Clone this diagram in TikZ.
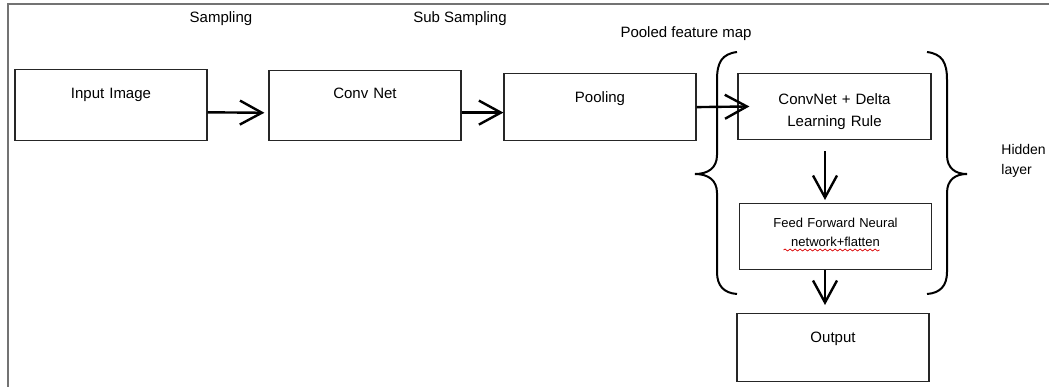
\documentclass[tikz,border=0pt]{standalone}
\usepackage{fontspec}
\setmainfont{Liberation Sans}
\usetikzlibrary{arrows.meta, calc, decorations.pathmorphing}

\begin{document}
\begin{tikzpicture}[x=0.5pt, y=-0.5pt,
    stage/.style={draw=black!85, line width=0.6pt, inner sep=0pt, text width=96pt,
      align=center, anchor=north, font=\fontsize{7.5}{11}\selectfont},
    flow/.style={-{Straight Barb[length=11pt, width=12pt]}, line width=1.2pt},
    hang/.style={line width=1pt},
    tag/.style={anchor=base, font=\fontsize{7.5}{10}\selectfont}]
  \useasboundingbox (0,0) rectangle (1049,387);

  % page frame
  \draw[black!55, line width=1pt] (1049,4) -- (8,4) -- (8,387);

  % top row
  \node[stage, text height=14.5pt, text depth=21pt] (in) at (111,69) {Input Image};
  \node[stage, text height=14pt, text depth=21pt] (conv) at (365,70) {Conv Net};
  \node[stage, text height=14.5pt, text depth=19pt] (pool) at (600,73) {Pooling};
  \node[stage, text width=96.5pt, text height=15.5pt, text depth=17.5pt] (delta) at (834.5,73)
    {ConvNet + Delta\\Learning Rule};

  % hidden layer column
  \node[stage, text height=12pt, text depth=21pt, font=\fontsize{6.5}{9.5}\selectfont] (ffnn) at (835.5,203)
    {Feed Forward Neural\\network+flatten};
  \node[stage, text height=14.5pt, text depth=19.5pt] (out) at (833,313) {Output};

  % labels
  \node[tag] (samp) at (221,22) {Sampling};
  \node[tag] (subsamp) at (460,22) {Sub Sampling};
  \node[tag] (pfmap) at (686,37) {Pooled feature map};
  \node[tag, anchor=base west, align=left, inner sep=0pt, font=\fontsize{7}{10}\selectfont] (hidden) at (1001,174) {Hidden\\layer};

  % spell-check squiggle
  \draw[red!85!black, line width=0.35pt, decorate, decoration={snake, amplitude=0.5pt, segment length=2.5pt}]
    ($(ffnn.north)+(-52,47)$) -- ($(ffnn.north)+(44,47)$);

  % arrows
  \draw[flow, shorten >=2pt] ([yshift=-3.6pt]in.east) -- ([yshift=-3.6pt]conv.west);
  \draw[flow] ([yshift=-3.5pt]conv.east) -- ([yshift=-2.75pt]pool.west);
  \draw[flow, shorten >=-6pt] (pool.east) -- (delta.west);
  \draw[flow, shorten <=5.5pt, shorten >=1.5pt] ([xshift=-4.75pt]delta.south) -- ([xshift=-5.25pt]ffnn.north);
  \draw[flow, shorten >=4pt] ([xshift=-5.25pt]ffnn.south) -- ([xshift=-4pt]out.north);

  % braces round the hidden layer
  \draw[hang] (737,52) .. controls (722,54) and (717,62) .. (717,80) -- (717,155)
    .. controls (717,168) and (708,174) .. (695,174)
    .. controls (708,174) and (717,180) .. (717,193) -- (717,272)
    .. controls (717,286) and (724,293) .. (737,294);
  \draw[hang] (927,52) .. controls (942,54) and (947,62) .. (947,80) -- (947,155)
    .. controls (947,168) and (955,174) .. (967,174)
    .. controls (955,174) and (947,180) .. (947,193) -- (947,272)
    .. controls (947,286) and (940,293) .. (927,294);
\end{tikzpicture}
\end{document}
